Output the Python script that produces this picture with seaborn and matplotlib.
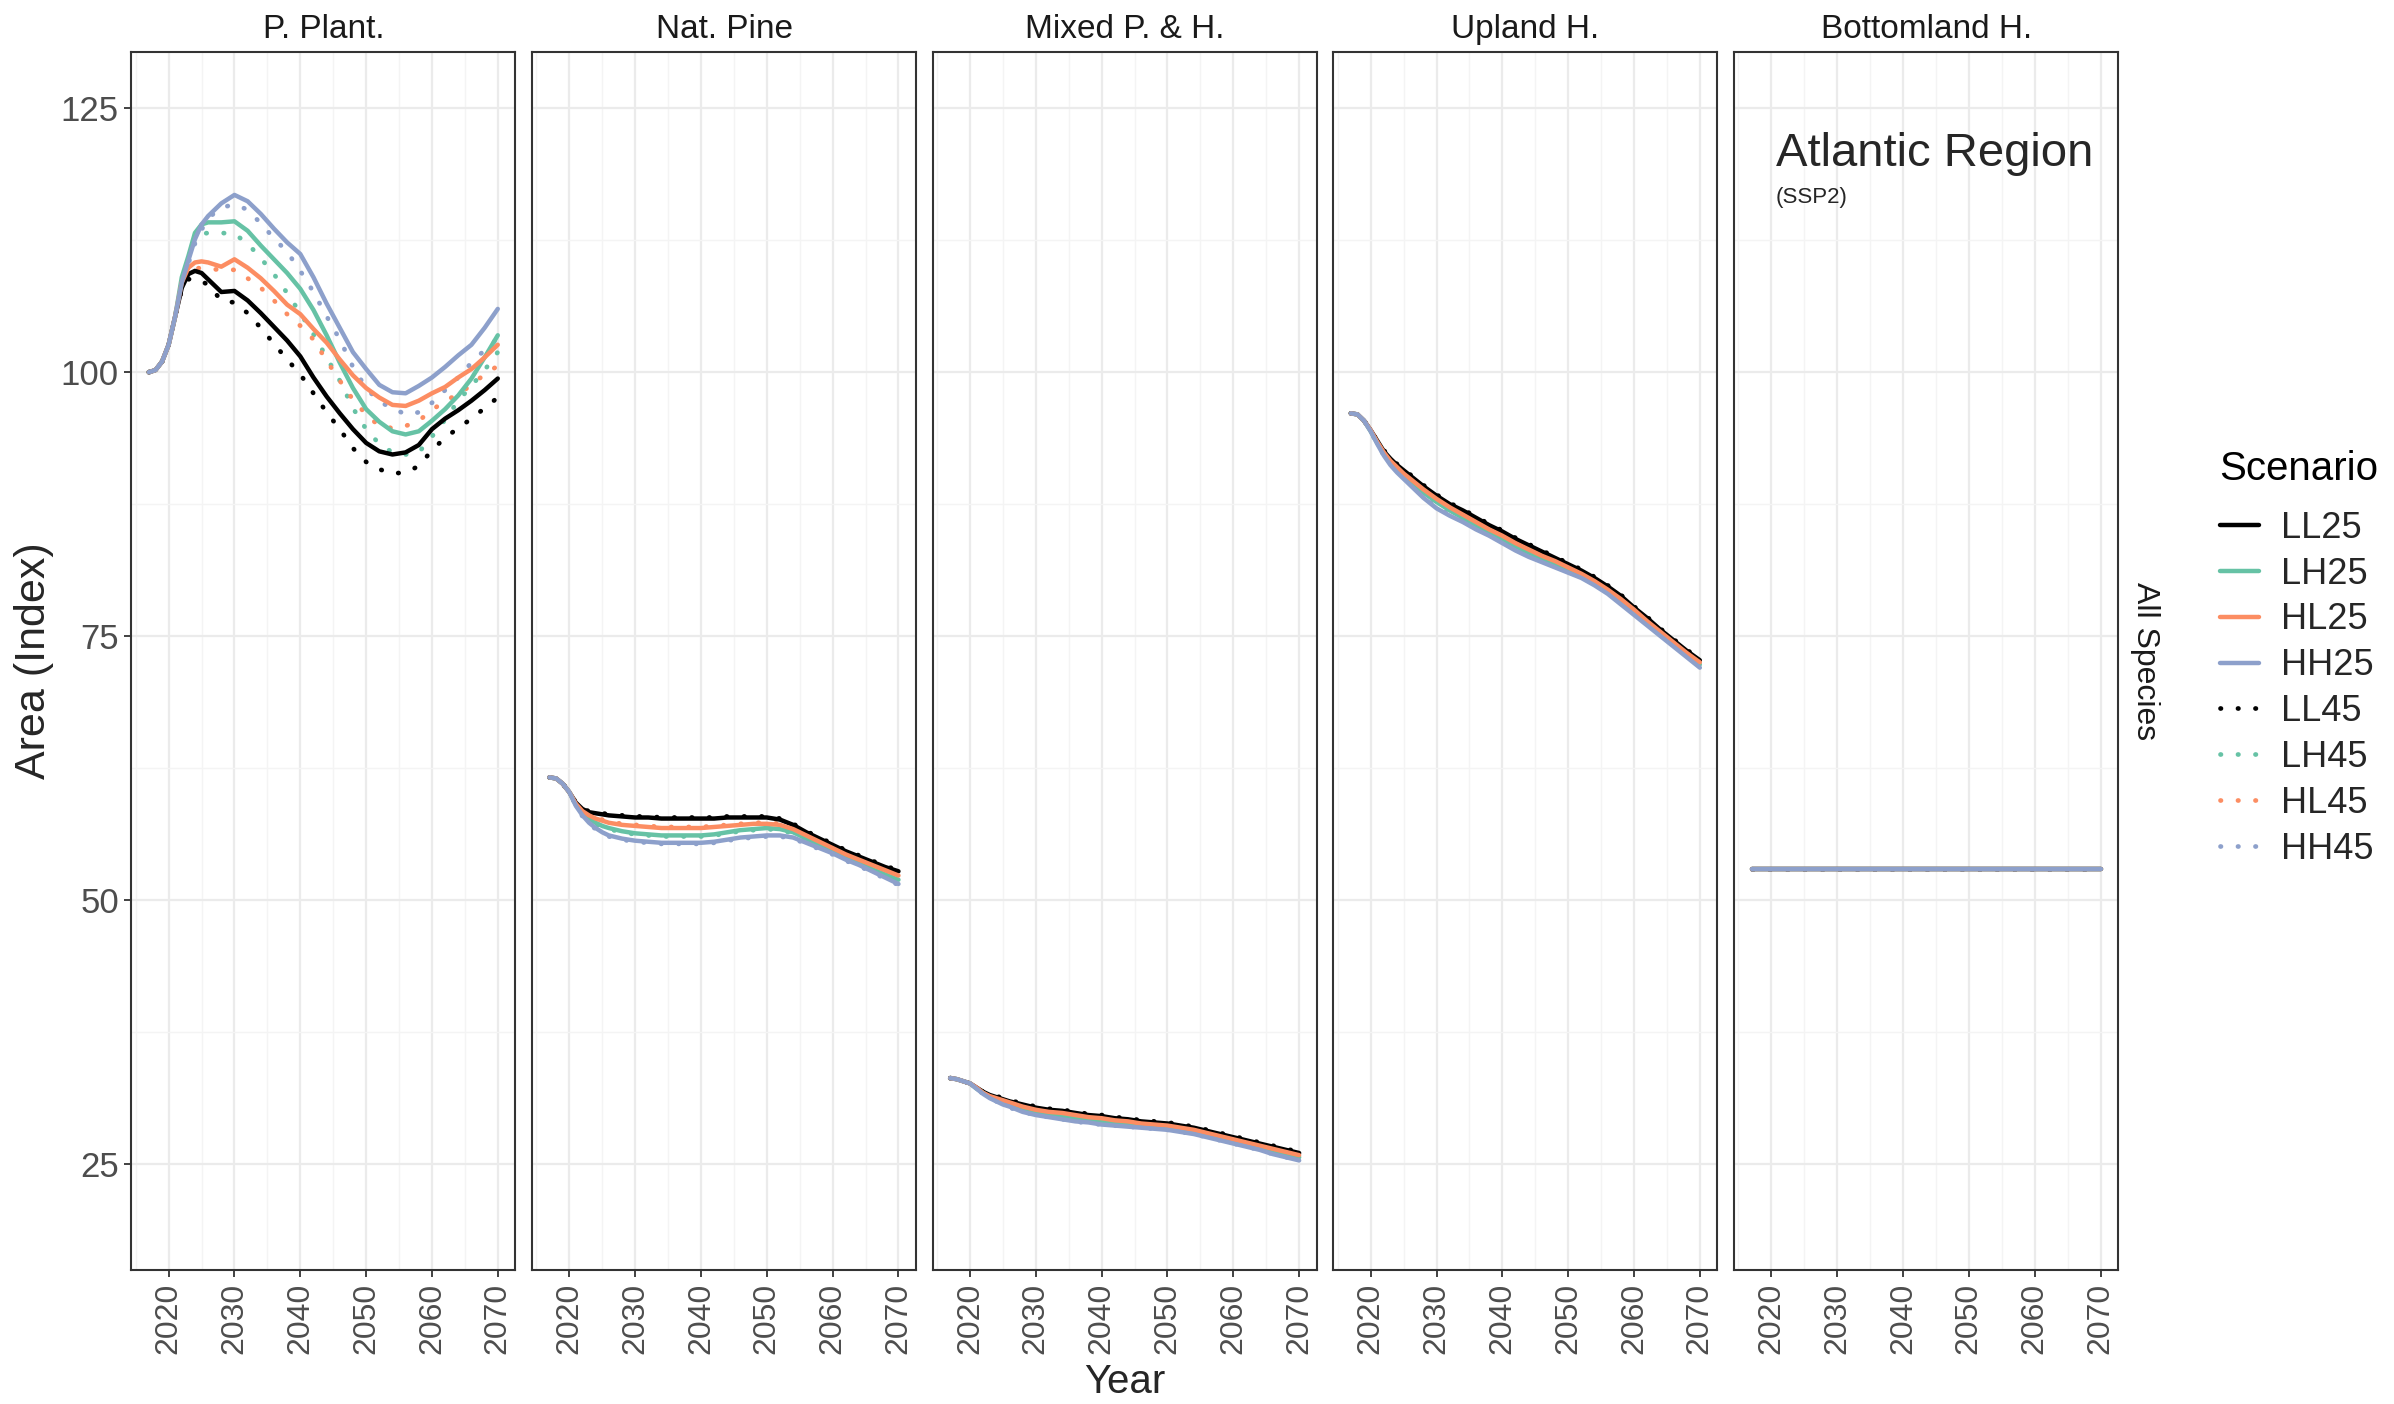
import pandas as pd
import matplotlib.pyplot as plt
from matplotlib.lines import Line2D
from matplotlib.ticker import MultipleLocator
import seaborn as sns

# Years
years = [2017, 2018, 2019, 2020, 2021, 2022, 2023, 2024, 2025, 2026, 2028, 2030,
         2032, 2034, 2036, 2038, 2040, 2042, 2044, 2046, 2048, 2050, 2052, 2054,
         2056, 2058, 2060, 2062, 2064, 2066, 2068, 2070]

# P. Plant.
pp_LL25 = [100.0, 100.2, 101.0, 102.6, 105.3, 108.0, 109.3, 109.6, 109.4, 108.8, 107.6, 107.7, 106.8, 105.6, 104.3, 103.0, 101.5, 99.5, 97.7, 96.1, 94.6, 93.3, 92.5, 92.2, 92.4, 93.1, 94.6, 95.6, 96.4, 97.3, 98.3, 99.4]
pp_LH25 = [100.0, 100.2, 101.0, 102.6, 105.3, 109.0, 111.0, 113.2, 114.0, 114.2, 114.2, 114.3, 113.4, 112.0, 110.7, 109.4, 107.9, 105.9, 103.5, 100.9, 98.5, 96.5, 95.3, 94.4, 94.1, 94.4, 95.4, 96.5, 97.8, 99.4, 101.4, 103.5]
pp_HL25 = [100.0, 100.2, 101.0, 102.6, 105.3, 108.5, 109.9, 110.4, 110.5, 110.4, 110.0, 110.7, 109.9, 108.9, 107.7, 106.4, 105.5, 104.1, 102.8, 101.2, 99.7, 98.5, 97.6, 96.9, 96.8, 97.3, 98.0, 98.6, 99.5, 100.3, 101.4, 102.6]
pp_HH25 = [100.0, 100.2, 101.0, 102.6, 105.3, 108.5, 110.6, 112.6, 114.0, 114.8, 116.0, 116.8, 116.2, 115.0, 113.6, 112.3, 111.2, 109.0, 106.5, 104.2, 101.9, 100.3, 98.8, 98.1, 98.0, 98.7, 99.5, 100.5, 101.6, 102.6, 104.2, 106.0]
pp_LL45 = [100.0, 100.2, 101.0, 102.6, 105.3, 107.8, 108.8, 108.9, 108.6, 108.3, 106.8, 106.6, 105.6, 104.2, 102.7, 101.2, 99.8, 98.0, 96.2, 94.6, 92.8, 91.5, 90.8, 90.4, 90.5, 91.1, 92.6, 93.8, 94.7, 95.6, 96.6, 97.6]
pp_LH45 = [100.0, 100.2, 101.0, 102.6, 105.3, 108.6, 110.6, 112.4, 113.1, 113.2, 113.2, 113.1, 112.2, 110.8, 109.3, 107.5, 105.6, 103.6, 101.4, 99.2, 96.6, 94.6, 93.2, 92.4, 92.2, 92.4, 93.9, 95.5, 97.3, 98.7, 100.2, 101.9]
pp_HL45 = [100.0, 100.2, 101.0, 102.6, 105.3, 108.2, 109.5, 109.8, 109.9, 109.8, 109.7, 109.7, 108.9, 108.0, 106.8, 105.5, 104.4, 103.1, 101.1, 99.2, 97.4, 96.0, 94.9, 94.7, 94.9, 95.4, 96.4, 97.3, 97.9, 98.8, 99.8, 100.6]
pp_HH45 = [100.0, 100.2, 101.0, 102.6, 105.3, 108.3, 110.3, 112.2, 113.5, 114.6, 115.6, 115.9, 115.4, 114.1, 112.7, 111.4, 109.6, 107.6, 105.3, 103.1, 100.5, 98.5, 97.2, 96.6, 96.0, 96.2, 97.1, 98.3, 99.5, 100.9, 102.1, 103.2]

# Nat. Pine
np_LL25 = [61.6, 61.5, 61.0, 60.2, 59.2, 58.6, 58.3, 58.2, 58.1, 58.0, 57.9, 57.8, 57.8, 57.7, 57.7, 57.7, 57.7, 57.7, 57.8, 57.8, 57.8, 57.8, 57.6, 57.1, 56.4, 55.8, 55.2, 54.6, 54.1, 53.6, 53.1, 52.7]
np_LH25 = [61.6, 61.5, 61.0, 60.2, 59.0, 58.2, 57.7, 57.3, 57.0, 56.8, 56.5, 56.3, 56.2, 56.1, 56.1, 56.1, 56.1, 56.2, 56.4, 56.6, 56.7, 56.8, 56.7, 56.4, 55.8, 55.2, 54.6, 54.0, 53.5, 52.9, 52.4, 51.9]
np_HL25 = [61.6, 61.5, 61.0, 60.2, 59.1, 58.4, 58.0, 57.7, 57.5, 57.3, 57.1, 57.0, 56.9, 56.8, 56.8, 56.8, 56.8, 56.9, 57.0, 57.1, 57.2, 57.2, 57.1, 56.7, 56.1, 55.5, 54.9, 54.3, 53.8, 53.3, 52.8, 52.3]
np_HH25 = [61.6, 61.5, 61.0, 60.2, 58.9, 58.0, 57.3, 56.8, 56.4, 56.1, 55.8, 55.6, 55.5, 55.4, 55.4, 55.4, 55.4, 55.5, 55.7, 55.9, 56.0, 56.1, 56.1, 55.9, 55.4, 54.9, 54.4, 53.8, 53.3, 52.7, 52.1, 51.5]
np_LL45 = [61.6, 61.5, 61.0, 60.2, 59.2, 58.6, 58.4, 58.3, 58.2, 58.1, 58.0, 57.9, 57.9, 57.8, 57.8, 57.8, 57.8, 57.8, 57.9, 57.9, 57.9, 57.9, 57.7, 57.2, 56.5, 55.9, 55.3, 54.7, 54.2, 53.7, 53.2, 52.8]
np_LH45 = [61.6, 61.5, 61.0, 60.2, 59.0, 58.2, 57.6, 57.2, 56.9, 56.7, 56.4, 56.2, 56.1, 56.0, 56.0, 56.0, 56.0, 56.1, 56.3, 56.5, 56.6, 56.7, 56.6, 56.3, 55.7, 55.1, 54.5, 53.9, 53.4, 52.8, 52.3, 51.8]
np_HL45 = [61.6, 61.5, 61.0, 60.2, 59.1, 58.5, 58.1, 57.8, 57.6, 57.4, 57.2, 57.1, 57.0, 56.9, 56.9, 56.9, 56.9, 57.0, 57.1, 57.2, 57.3, 57.3, 57.2, 56.8, 56.2, 55.6, 55.0, 54.4, 53.9, 53.4, 52.9, 52.4]
np_HH45 = [61.6, 61.5, 61.0, 60.2, 58.9, 57.9, 57.2, 56.7, 56.3, 56.0, 55.7, 55.5, 55.4, 55.3, 55.3, 55.3, 55.3, 55.4, 55.6, 55.8, 55.9, 56.0, 56.0, 55.8, 55.3, 54.8, 54.3, 53.7, 53.2, 52.6, 52.0, 51.4]

# Mixed P. & H.
mx_LL25 = [33.1, 33.0, 32.8, 32.6, 32.2, 31.8, 31.5, 31.3, 31.1, 30.9, 30.6, 30.3, 30.1, 30.0, 29.8, 29.6, 29.5, 29.3, 29.2, 29.0, 28.9, 28.8, 28.6, 28.4, 28.1, 27.8, 27.5, 27.2, 26.9, 26.6, 26.3, 26.0]
mx_LH25 = [33.1, 33.0, 32.8, 32.6, 32.1, 31.7, 31.3, 31.1, 30.8, 30.6, 30.2, 29.9, 29.7, 29.5, 29.3, 29.2, 29.0, 28.9, 28.8, 28.7, 28.5, 28.4, 28.2, 28.0, 27.7, 27.4, 27.1, 26.8, 26.5, 26.2, 25.9, 25.6]
mx_HL25 = [33.1, 33.0, 32.8, 32.6, 32.2, 31.7, 31.4, 31.2, 31.0, 30.8, 30.4, 30.1, 29.9, 29.8, 29.6, 29.4, 29.3, 29.1, 29.0, 28.8, 28.7, 28.6, 28.4, 28.2, 27.9, 27.6, 27.3, 27.0, 26.7, 26.4, 26.1, 25.8]
mx_HH25 = [33.1, 33.0, 32.8, 32.6, 32.1, 31.6, 31.2, 30.9, 30.6, 30.4, 29.9, 29.6, 29.4, 29.2, 29.0, 28.9, 28.7, 28.6, 28.5, 28.4, 28.3, 28.2, 28.0, 27.8, 27.5, 27.2, 26.9, 26.6, 26.3, 25.9, 25.6, 25.3]
mx_LL45 = [33.1, 33.0, 32.8, 32.6, 32.2, 31.8, 31.6, 31.4, 31.2, 31.0, 30.7, 30.4, 30.2, 30.1, 29.9, 29.7, 29.6, 29.4, 29.3, 29.1, 29.0, 28.9, 28.7, 28.5, 28.2, 27.9, 27.6, 27.3, 27.0, 26.7, 26.4, 26.1]
mx_LH45 = [33.1, 33.0, 32.8, 32.6, 32.1, 31.7, 31.3, 31.0, 30.8, 30.5, 30.2, 29.9, 29.7, 29.5, 29.3, 29.1, 29.0, 28.9, 28.8, 28.6, 28.5, 28.4, 28.2, 28.0, 27.7, 27.4, 27.1, 26.8, 26.5, 26.2, 25.9, 25.6]
mx_HL45 = [33.1, 33.0, 32.8, 32.6, 32.2, 31.7, 31.4, 31.2, 31.0, 30.8, 30.5, 30.2, 30.0, 29.9, 29.7, 29.5, 29.4, 29.2, 29.1, 28.9, 28.8, 28.7, 28.5, 28.3, 28.0, 27.7, 27.4, 27.1, 26.8, 26.5, 26.2, 25.9]
mx_HH45 = [33.1, 33.0, 32.8, 32.6, 32.1, 31.6, 31.2, 30.9, 30.6, 30.3, 29.9, 29.6, 29.4, 29.2, 29.0, 28.8, 28.7, 28.6, 28.5, 28.4, 28.3, 28.2, 28.0, 27.8, 27.5, 27.2, 26.9, 26.6, 26.3, 25.9, 25.6, 25.3]

# Upland H.
up_LL25 = [96.1, 96.0, 95.4, 94.5, 93.5, 92.5, 91.8, 91.2, 90.7, 90.2, 89.2, 88.3, 87.5, 86.9, 86.2, 85.5, 84.9, 84.2, 83.6, 83.0, 82.4, 81.8, 81.2, 80.5, 79.7, 78.8, 77.7, 76.7, 75.6, 74.6, 73.6, 72.7]
up_LH25 = [96.1, 96.0, 95.4, 94.4, 93.3, 92.3, 91.4, 90.8, 90.2, 89.7, 88.6, 87.7, 86.9, 86.2, 85.5, 84.8, 84.2, 83.5, 82.9, 82.3, 81.8, 81.3, 80.7, 80.1, 79.3, 78.4, 77.3, 76.3, 75.3, 74.3, 73.2, 72.3]
up_HL25 = [96.1, 96.0, 95.4, 94.5, 93.4, 92.4, 91.6, 91.0, 90.4, 89.9, 88.9, 88.0, 87.2, 86.5, 85.8, 85.1, 84.5, 83.8, 83.2, 82.6, 82.1, 81.5, 80.9, 80.2, 79.4, 78.5, 77.5, 76.4, 75.4, 74.4, 73.4, 72.5]
up_HH25 = [96.1, 96.0, 95.4, 94.4, 93.2, 92.1, 91.2, 90.5, 89.9, 89.3, 88.1, 87.1, 86.4, 85.8, 85.1, 84.5, 83.8, 83.1, 82.5, 82.0, 81.5, 81.0, 80.5, 79.8, 79.0, 78.0, 77.0, 76.0, 75.0, 74.0, 73.0, 72.0]
up_LL45 = [96.1, 96.0, 95.4, 94.5, 93.5, 92.6, 91.9, 91.3, 90.8, 90.3, 89.3, 88.4, 87.6, 87.0, 86.3, 85.6, 85.0, 84.3, 83.7, 83.1, 82.5, 81.9, 81.3, 80.6, 79.8, 78.9, 77.8, 76.8, 75.7, 74.7, 73.7, 72.8]
up_LH45 = [96.1, 96.0, 95.4, 94.4, 93.3, 92.3, 91.5, 90.9, 90.3, 89.8, 88.7, 87.8, 87.0, 86.3, 85.6, 84.9, 84.3, 83.6, 83.0, 82.4, 81.9, 81.4, 80.8, 80.2, 79.4, 78.5, 77.4, 76.4, 75.4, 74.4, 73.3, 72.4]
up_HL45 = [96.1, 96.0, 95.4, 94.5, 93.4, 92.4, 91.7, 91.1, 90.5, 90.0, 89.0, 88.1, 87.3, 86.6, 85.9, 85.2, 84.6, 83.9, 83.3, 82.7, 82.2, 81.6, 81.0, 80.3, 79.5, 78.6, 77.6, 76.5, 75.5, 74.5, 73.5, 72.6]
up_HH45 = [96.1, 96.0, 95.4, 94.4, 93.2, 92.1, 91.3, 90.6, 90.0, 89.4, 88.2, 87.2, 86.5, 85.9, 85.2, 84.6, 83.9, 83.2, 82.6, 82.1, 81.6, 81.1, 80.6, 79.9, 79.1, 78.1, 77.1, 76.1, 75.1, 74.1, 73.1, 72.1]

# Bottomland H. (flat, all scenarios overlap)
bl_all = [52.9, 52.9, 52.9, 52.9, 52.9, 52.9, 52.9, 52.9, 52.9, 52.9, 52.9, 52.9, 52.9, 52.9, 52.9, 52.9, 52.9, 52.9, 52.9, 52.9, 52.9, 52.9, 52.9, 52.9, 52.9, 52.9, 52.9, 52.9, 52.9, 52.9, 52.9, 52.9]

panels = ["P. Plant.", "Nat. Pine", "Mixed P. & H.", "Upland H.", "Bottomland H."]
scenarios = ["LL25", "LH25", "HL25", "HH25", "LL45", "LH45", "HL45", "HH45"]

series = {
    "P. Plant.": [pp_LL25, pp_LH25, pp_HL25, pp_HH25, pp_LL45, pp_LH45, pp_HL45, pp_HH45],
    "Nat. Pine": [np_LL25, np_LH25, np_HL25, np_HH25, np_LL45, np_LH45, np_HL45, np_HH45],
    "Mixed P. & H.": [mx_LL25, mx_LH25, mx_HL25, mx_HH25, mx_LL45, mx_LH45, mx_HL45, mx_HH45],
    "Upland H.": [up_LL25, up_LH25, up_HL25, up_HH25, up_LL45, up_LH45, up_HL45, up_HH45],
    "Bottomland H.": [bl_all] * 8,
}

rows = []
for panel, lists in series.items():
    for scen, vals in zip(scenarios, lists):
        for yr, v in zip(years, vals):
            rows.append((panel, scen, yr, v))
df = pd.DataFrame(rows, columns=["Type", "Scenario", "Year", "Area"])

colors = {"LL": "black", "LH": "#66C2A5", "HL": "#FC8D62", "HH": "#8DA0CB"}
dot_style = (0, (0.1, 3.6))

sns.set_theme(style="white")
plt.rcParams["font.family"] = ["Liberation Sans", "DejaVu Sans"]

fig, axes = plt.subplots(1, 5, figsize=(23.94, 14.04), dpi=100, sharey=True)
fig.subplots_adjust(left=0.0549, right=0.8847, bottom=0.0951, top=0.963, wspace=0.044)

# dotted ones first, solid lines end up on top
draw_order = ["LL45", "LH45", "HL45", "HH45", "LL25", "LH25", "HL25", "HH25"]

for i, (ax, panel) in enumerate(zip(axes, panels)):
    for scen in draw_order:
        d = df[(df["Type"] == panel) & (df["Scenario"] == scen)]
        if scen.endswith("25"):
            sns.lineplot(data=d, x="Year", y="Area", ax=ax, color=colors[scen[:2]],
                         linewidth=3.2, errorbar=None, legend=False)
        else:
            sns.lineplot(data=d, x="Year", y="Area", ax=ax, color=colors[scen[:2]],
                         linewidth=3.4, linestyle=dot_style, dash_capstyle="round",
                         errorbar=None, legend=False)

    ax.set_xlim(2014.35, 2072.65)
    ax.set_ylim(14.87, 130.35)
    ax.set_xticks([2020, 2030, 2040, 2050, 2060, 2070])
    ax.set_yticks([25, 50, 75, 100, 125])
    ax.xaxis.set_minor_locator(MultipleLocator(5))
    ax.yaxis.set_minor_locator(MultipleLocator(12.5))
    ax.grid(which="major", color="#EBEBEB", linewidth=1.6)
    ax.grid(which="minor", color="#F4F4F4", linewidth=1.0)
    ax.set_axisbelow(True)
    for sp in ax.spines.values():
        sp.set_color("#333333")
        sp.set_linewidth(1.5)
    ax.tick_params(which="major", length=5, width=1.3, color="#333333",
                   labelcolor="#4D4D4D", bottom=True, left=(i == 0))
    ax.tick_params(which="minor", length=0)
    ax.tick_params(axis="x", labelrotation=90, labelsize=23, pad=4)
    ax.tick_params(axis="y", labelsize=25, pad=4)
    ax.set_xlabel("")
    ax.set_ylabel("")
    ax.set_title(panel, fontsize=24, pad=10, color="#1A1A1A")

fig.text(1125 / 2394, 1 - 1382 / 1404, "Year", fontsize=29, ha="center", va="center")
fig.text(34 / 2394, 1 - 661 / 1404, "Area (Index)", fontsize=31, rotation=90,
         ha="center", va="center")
fig.text(2145 / 2394, 1 - 661 / 1404, "All Species", fontsize=23, rotation=-90,
         ha="center", va="center", color="#1A1A1A")
fig.text(1776 / 2394, 1 - 154 / 1404, "Atlantic Region", fontsize=34, ha="left", va="center")
fig.text(1776 / 2394, 1 - 197 / 1404, "(SSP2)", fontsize=16, ha="left", va="center")

handles = []
for scen in scenarios:
    if scen.endswith("25"):
        handles.append(Line2D([], [], color=colors[scen[:2]], linewidth=3.2))
    else:
        handles.append(Line2D([], [], color=colors[scen[:2]], linewidth=3.4,
                              linestyle=dot_style, dash_capstyle="round"))
leg = fig.legend(handles, scenarios, title="Scenario", loc="upper left",
                 bbox_to_anchor=(2187 / 2394, 1 - 418 / 1404), frameon=False,
                 fontsize=26, title_fontsize=29, handlelength=1.1, handletextpad=0.6,
                 labelspacing=0.3, alignment="left")
leg.get_title().set_color("black")
# more room between the legend title and the keys
leg._legend_box.sep = 16

fig.savefig("out.png", dpi=100)
